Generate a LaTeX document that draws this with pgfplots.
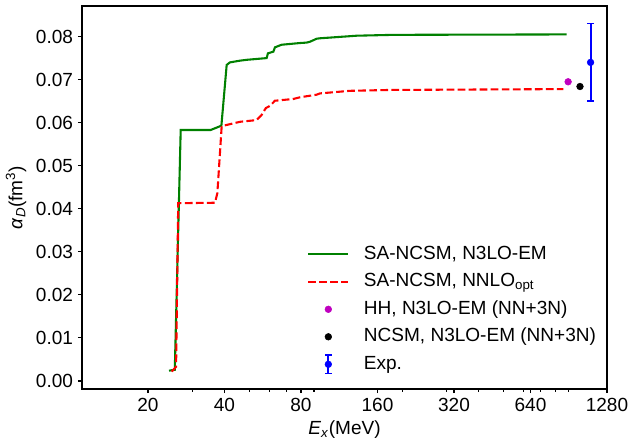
\documentclass[border=0pt]{standalone}
\usepackage{pgfplots}
\pgfplotsset{compat=1.18}
\usepackage{fontspec}
\setmainfont{Liberation Sans}
\definecolor{mplgreen}{rgb}{0,0.5,0}
\definecolor{mplmag}{rgb}{0.75,0,0.75}
\newcommand{\ff}{\fontsize{13.7pt}{16.4pt}\selectfont}
\begin{document}
\begin{tikzpicture}
\begin{axis}[
  scale only axis, width=378pt, height=275.76pt,
  xmode=log,
  xmin=11, xmax=1280, ymin=-0.00186, ymax=0.0871,
  xtick={20,40,80,160,320,640,1280},
  xticklabels={20,40,80,160,320,640,1280},
  minor xtick={30,50,60,70,90,200,300,400,500,600,700,800,900},
  ytick={0,0.01,0.02,0.03,0.04,0.05,0.06,0.07,0.08},
  scaled y ticks=false,
  yticklabel style={/pgf/number format/.cd, fixed, fixed zerofill, precision=2, assume math mode=true},
  tick label style={font=\ff},
  label style={font=\ff},
  xtick pos=left, ytick pos=left,
  tick align=outside,
  major tick length=3pt, minor tick length=2pt,
  tick style={black, line width=0.8pt},
  axis line style={black, line width=0.8pt},
  xlabel={\textit{E}\textsubscript{\textit{x}}(MeV)},
  ylabel={\textit{α}\textsubscript{\textit{D}}(fm\textsuperscript{3})},
  legend style={font=\ff, draw=none, fill=none, inner sep=0pt, at={(0.4286,0.376)}, anchor=north west, row sep=6.8pt,
    nodes={inner sep=0pt, text height=10pt, text depth=3pt},
    /tikz/every odd column/.append style={column sep=10.5pt}},
  legend cell align=left,
  legend image code/.code={\draw[mark repeat=2,mark phase=2,#1] plot coordinates {(0pt,0pt) (14.4pt,0pt) (28.8pt,0pt)};},
]
\addplot[mplgreen, line width=1.5pt] coordinates {
(24.2,0.0024) (25.5,0.0026) (26.9,0.0583) (35.3,0.0583) (38.9,0.0593)
(40.8,0.0734) (42.0,0.0740) (46.0,0.0744) (48.9,0.0746) (58.6,0.0750)
(59.3,0.0761) (62.3,0.0765) (63.2,0.0775) (67.1,0.0781) (79.3,0.0785)
(84.2,0.0786) (86.8,0.0788) (92.2,0.0795) (95.0,0.0796) (132.5,0.0802)
(184.7,0.0804) (888,0.0805)};
\addlegendentry{SA-NCSM, N3LO-EM}
\addplot[red, line width=1.5pt, dash pattern=on 5.55pt off 2.4pt] coordinates {
(24.8,0.0022) (25.8,0.0033) (26.3,0.0413) (36.7,0.0414) (37.5,0.0436)
(39.0,0.0592) (46.0,0.0602) (53.5,0.0606) (56.0,0.0618) (58.2,0.0634)
(60.4,0.0639) (63.2,0.0651) (74.6,0.0655) (79.3,0.0659) (92.2,0.0665)
(95.0,0.0668) (124.7,0.0674) (179,0.0676) (862,0.0678)};
\addlegendentry{SA-NCSM, NNLO\textsubscript{opt}}
\addplot[only marks, mark=*, mark size=2.4pt, mplmag, mark options={draw=mplmag, fill=mplmag}] coordinates {(900,0.0695)};
\addlegendentry{HH, N3LO-EM (NN+3N)}
\addplot[only marks, mark=*, mark size=2.4pt, black] coordinates {(1002,0.0684)};
\addlegendentry{NCSM, N3LO-EM (NN+3N)}
\addplot[only marks, mark=*, mark size=2.4pt, blue,
  legend image code/.code={
    \path[draw=none, fill=none, use as bounding box] (0pt,-3pt) rectangle (28.8pt,3pt);
    \draw[blue, line width=1.5pt] (14.4pt,-6.8pt) -- (14.4pt,6.8pt);
    \draw[blue, line width=1pt] (12pt,-6.8pt) -- (16.8pt,-6.8pt) (12pt,6.8pt) -- (16.8pt,6.8pt);
    \fill[blue] (14.4pt,0pt) circle (2.4pt);},
  error bars/.cd, y dir=both, y explicit,
  error bar style={line width=1.5pt, blue},
  error mark options={rotate=90, blue, mark size=2.4pt, line width=1pt},
  ] coordinates {(1103,0.074) +- (0,0.009)};
\addlegendentry{Exp.}
\end{axis}
\pgfresetboundingbox
\path ([shift={(-59.04pt,-36.72pt)}]current axis.south west) rectangle ([shift={(15.84pt,4.32pt)}]current axis.north east);
\end{tikzpicture}
\end{document}
